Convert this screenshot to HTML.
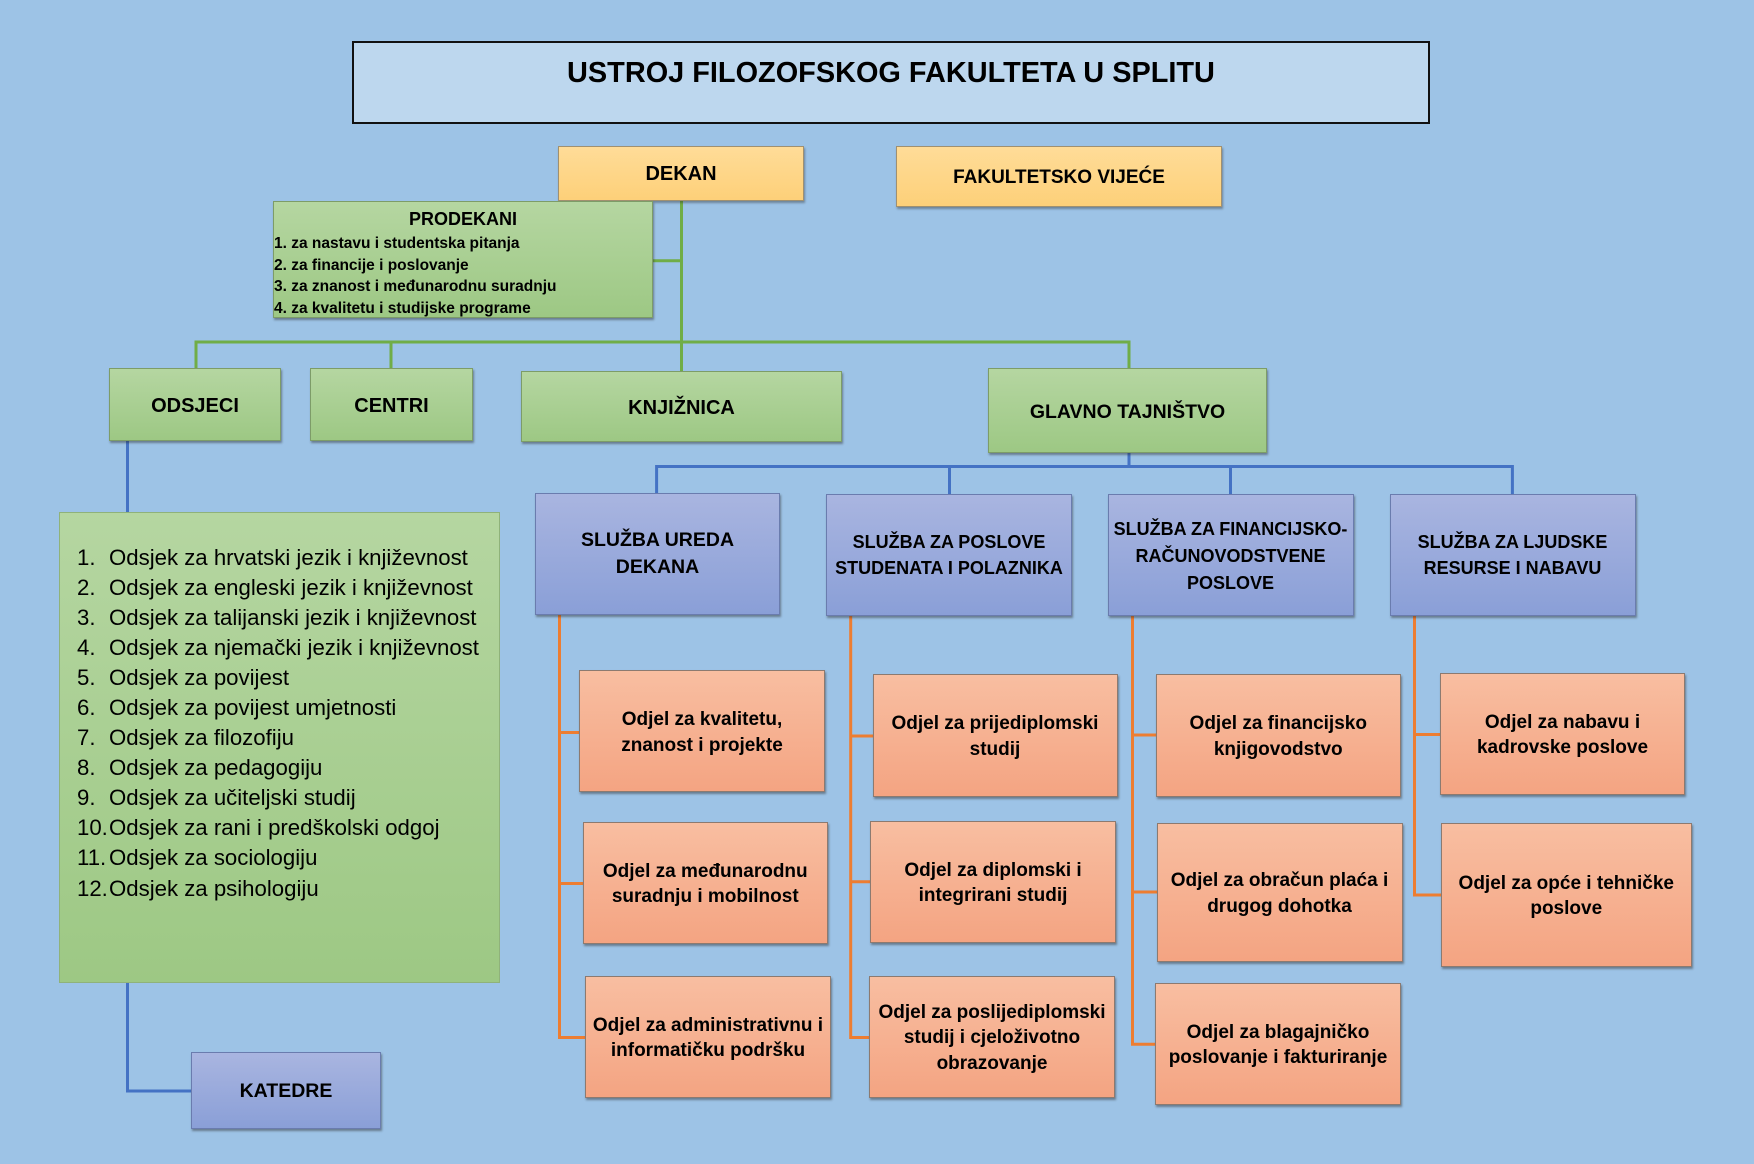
<!DOCTYPE html>
<html>
<head>
<meta charset="utf-8">
<style>
  html, body { margin:0; padding:0; }
  body { width:1754px; height:1164px; background:#9dc3e6; position:relative; overflow:hidden;
         font-family:"Liberation Sans", sans-serif; color:#000; }
  svg.lines { position:absolute; left:0; top:0; }
  .box { position:absolute; box-sizing:border-box; display:flex; align-items:center; justify-content:center;
         text-align:center; font-weight:bold; white-space:nowrap; }
  .g { background:linear-gradient(#b5d6a1, #9dc884); border:1px solid #7d9c68; box-shadow:1px 2px 2px rgba(40,40,40,0.45); padding-top:3px; }
  .y { background:linear-gradient(#ffdc98, #fdd079); border:1px solid #a09070; box-shadow:1px 2px 2px rgba(40,40,40,0.4); padding-top:2px; }
  .b { background:linear-gradient(#a9b5e0, #8a9fd7); border:1px solid #6a7cae; box-shadow:1px 2px 2px rgba(40,40,40,0.45); font-size:18px; line-height:26px; }
  .o { background:linear-gradient(#f8bea1, #f4a482); border:1px solid #8c7a70; box-shadow:1px 2px 2px rgba(40,40,40,0.45); font-size:19px; line-height:25.5px; padding-top:3px; }
</style>
</head>
<body>

<svg class="lines" width="1754" height="1164" viewBox="0 0 1754 1164">
  <!-- green connectors -->
  <g stroke="#70ad47" stroke-width="3" fill="none">
    <line x1="681.5" y1="200" x2="681.5" y2="371"/>
    <line x1="652" y1="260.7" x2="681.5" y2="260.7"/>
    <polyline points="196,369 196,342 1129,342 1129,368"/>
    <line x1="391" y1="342" x2="391" y2="369"/>
  </g>
  <!-- blue connectors -->
  <g stroke="#4472c4" stroke-width="3" fill="none">
    <line x1="127.5" y1="441" x2="127.5" y2="512"/>
    <polyline points="127.5,982 127.5,1091 191,1091"/>
    <line x1="1129" y1="452" x2="1129" y2="466.5"/>
    <polyline points="656.6,493 656.6,466.5 1512.4,466.5 1512.4,494"/>
    <line x1="949.5" y1="466.5" x2="949.5" y2="494"/>
    <line x1="1230.5" y1="466.5" x2="1230.5" y2="494"/>
  </g>
  <!-- orange connectors -->
  <g stroke="#ed7d31" stroke-width="3" fill="none">
    <polyline points="559.5,614 559.5,1037.5 585,1037.5"/>
    <line x1="559.5" y1="732.5" x2="579" y2="732.5"/>
    <line x1="559.5" y1="883.5" x2="583" y2="883.5"/>

    <polyline points="850.7,616 850.7,1037.5 869,1037.5"/>
    <line x1="850.7" y1="736" x2="873" y2="736"/>
    <line x1="850.7" y1="881.7" x2="870" y2="881.7"/>

    <polyline points="1132.5,616 1132.5,1044.3 1155.5,1044.3"/>
    <line x1="1132.5" y1="735" x2="1156" y2="735"/>
    <line x1="1132.5" y1="892" x2="1157" y2="892"/>

    <polyline points="1414.5,616 1414.5,895 1441,895"/>
    <line x1="1414.5" y1="734.5" x2="1440" y2="734.5"/>
  </g>
</svg>

<!-- Title -->
<div style="position:absolute; left:352px; top:41px; width:1078px; height:83px; box-sizing:border-box; background:#bdd7ee; border:2px solid #111;"></div>
<div style="position:absolute; left:352px; top:56px; width:1078px; text-align:center; font-weight:bold; font-size:28.9px; line-height:34px; white-space:nowrap;">USTROJ FILOZOFSKOG FAKULTETA U SPLITU</div>

<!-- Top level -->
<div class="box y" style="left:558px; top:146px; width:246px; height:55px; font-size:20px;">DEKAN</div>
<div class="box y" style="left:896px; top:146px; width:326px; height:61px; font-size:19px;">FAKULTETSKO VIJEĆE</div>

<!-- Prodekani -->
<div class="box g" style="left:273px; top:201px; width:380px; height:117px; display:block; padding-top:0;">
  <div style="position:absolute; left:0; right:0; top:5px; text-align:center; font-size:18px; line-height:24px;">PRODEKANI</div>
  <div style="position:absolute; left:0; top:31px; text-align:left; font-size:15.5px; line-height:21.7px;">
    1. za nastavu i studentska pitanja<br>
    2. za financije i poslovanje<br>
    3. za znanost i međunarodnu suradnju<br>
    4. za kvalitetu i studijske programe
  </div>
</div>

<!-- Second level -->
<div class="box g" style="left:109px; top:368px; width:172px; height:73px; font-size:20px;">ODSJECI</div>
<div class="box g" style="left:310px; top:368px; width:163px; height:73px; font-size:20px;">CENTRI</div>
<div class="box g" style="left:521px; top:371px; width:321px; height:71px; font-size:20px;">KNJIŽNICA</div>
<div class="box g" style="left:988px; top:368px; width:279px; height:85px; font-size:19.5px;">GLAVNO TAJNIŠTVO</div>

<!-- Odsjeci list -->
<div class="box g" style="left:59px; top:512px; width:441px; height:471px; display:block; box-shadow:none; border-color:#8fb27a;">
</div>
<div style="position:absolute; left:77px; top:542.5px; font-size:22.2px; line-height:30.1px; white-space:nowrap;">
  <div><span style="display:inline-block; width:32px;">1.</span>Odsjek za hrvatski jezik i književnost</div>
  <div><span style="display:inline-block; width:32px;">2.</span>Odsjek za engleski jezik i književnost</div>
  <div><span style="display:inline-block; width:32px;">3.</span>Odsjek za talijanski jezik i književnost</div>
  <div><span style="display:inline-block; width:32px;">4.</span>Odsjek za njemački jezik i književnost</div>
  <div><span style="display:inline-block; width:32px;">5.</span>Odsjek za povijest</div>
  <div><span style="display:inline-block; width:32px;">6.</span>Odsjek za povijest umjetnosti</div>
  <div><span style="display:inline-block; width:32px;">7.</span>Odsjek za filozofiju</div>
  <div><span style="display:inline-block; width:32px;">8.</span>Odsjek za pedagogiju</div>
  <div><span style="display:inline-block; width:32px;">9.</span>Odsjek za učiteljski studij</div>
  <div><span style="display:inline-block; width:32px;">10.</span>Odsjek za rani i predškolski odgoj</div>
  <div><span style="display:inline-block; width:32px;">11.</span>Odsjek za sociologiju</div>
  <div><span style="display:inline-block; width:32px;">12.</span>Odsjek za psihologiju</div>
</div>

<!-- Katedre -->
<div class="box b" style="left:191px; top:1052px; width:190px; height:77px; font-size:19.5px;">KATEDRE</div>

<!-- Službe -->
<div class="box b" style="left:535px; top:492.5px; width:245px; height:122px; font-size:19.5px; line-height:27px;">SLUŽBA UREDA<br>DEKANA</div>
<div class="box b" style="left:826px; top:493.5px; width:246px; height:122px;">SLUŽBA ZA POSLOVE<br>STUDENATA I POLAZNIKA</div>
<div class="box b" style="left:1107.5px; top:493.5px; width:246px; height:122px; line-height:27px;"><div style="margin-top:3px;">SLUŽBA ZA FINANCIJSKO-<br>RAČUNOVODSTVENE<br>POSLOVE</div></div>
<div class="box b" style="left:1389.5px; top:493.5px; width:246px; height:122px;">SLUŽBA ZA LJUDSKE<br>RESURSE I NABAVU</div>

<!-- Odjeli col 1 -->
<div class="box o" style="left:579px; top:670px; width:246px; height:122px;">Odjel za kvalitetu,<br>znanost i projekte</div>
<div class="box o" style="left:582.5px; top:821.5px; width:245.5px; height:122.5px;">Odjel za međunarodnu<br>suradnju i mobilnost</div>
<div class="box o" style="left:585px; top:975.5px; width:246px; height:122px;">Odjel za administrativnu i<br>informatičku podršku</div>

<!-- Odjeli col 2 -->
<div class="box o" style="left:872.5px; top:673.5px; width:245px; height:123px;">Odjel za prijediplomski<br>studij</div>
<div class="box o" style="left:870px; top:820.5px; width:246px; height:122px;">Odjel za diplomski i<br>integrirani studij</div>
<div class="box o" style="left:869px; top:975.5px; width:246px; height:122px;">Odjel za poslijediplomski<br>studij i cjeloživotno<br>obrazovanje</div>

<!-- Odjeli col 3 -->
<div class="box o" style="left:1155.5px; top:674px; width:245.5px; height:122.5px;">Odjel za financijsko<br>knjigovodstvo</div>
<div class="box o" style="left:1156.5px; top:822.5px; width:246px; height:139px;">Odjel za obračun plaća i<br>drugog dohotka</div>
<div class="box o" style="left:1155px; top:982.5px; width:246px; height:122px;">Odjel za blagajničko<br>poslovanje i fakturiranje</div>

<!-- Odjeli col 4 -->
<div class="box o" style="left:1440px; top:672.5px; width:245px; height:122px;">Odjel za nabavu i<br>kadrovske poslove</div>
<div class="box o" style="left:1440.5px; top:822.5px; width:251.5px; height:144px;">Odjel za opće i tehničke<br>poslove</div>

</body>
</html>
